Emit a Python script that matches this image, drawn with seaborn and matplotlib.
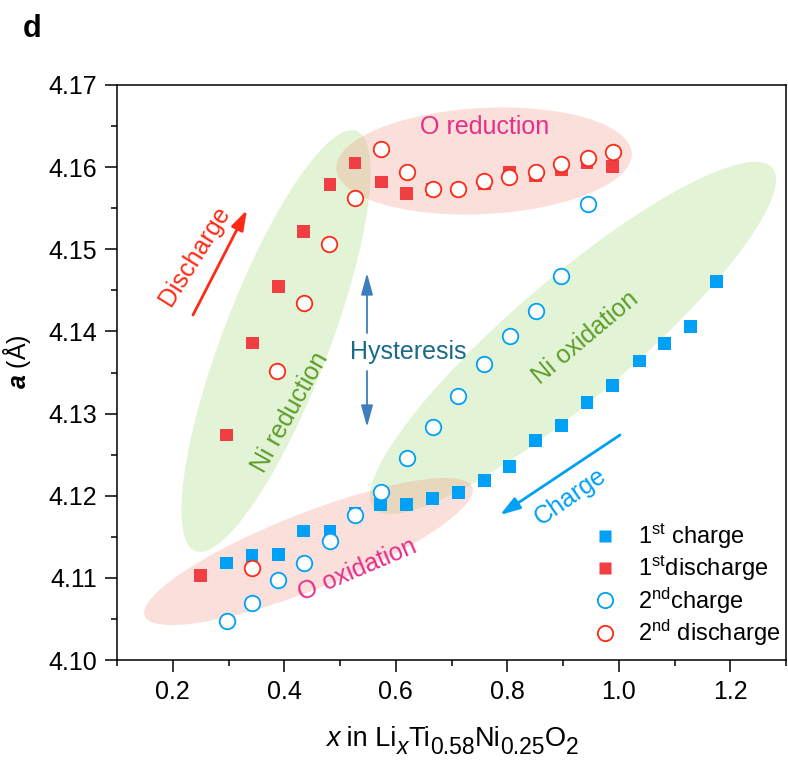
import numpy as np
import pandas as pd
import matplotlib
matplotlib.use("Agg")
import matplotlib.pyplot as plt
import matplotlib.transforms as mtransforms
import seaborn as sns
from matplotlib.patches import Ellipse
from matplotlib.ticker import MultipleLocator, FormatStrFormatter
from matplotlib.lines import Line2D

# ---------------- data ----------------
x_c1 = [0.297, 0.342, 0.389, 0.435, 0.482, 0.527, 0.573, 0.620, 0.666, 0.712,
        0.759, 0.804, 0.851, 0.897, 0.943, 0.989, 1.037, 1.082, 1.128, 1.175]
a_c1 = [4.1118, 4.1127, 4.1128, 4.1157, 4.1157, 4.1179, 4.1189, 4.1189, 4.1197, 4.1204,
        4.1219, 4.1236, 4.1267, 4.1285, 4.1313, 4.1334, 4.1364, 4.1385, 4.1406, 4.1461]

x_d1 = [0.250, 0.297, 0.343, 0.389, 0.435, 0.482, 0.527, 0.574, 0.620, 0.666,
        0.712, 0.759, 0.804, 0.851, 0.897, 0.943, 0.989]
a_d1 = [4.1103, 4.1274, 4.1386, 4.1455, 4.1522, 4.1579, 4.1605, 4.1582, 4.1568, 4.1573,
        4.1573, 4.1580, 4.1593, 4.1590, 4.1597, 4.1605, 4.1601]

x_c2 = [0.297, 0.342, 0.389, 0.435, 0.482, 0.527, 0.573, 0.620, 0.666, 0.712,
        0.759, 0.805, 0.851, 0.897, 0.944]
a_c2 = [4.1048, 4.1069, 4.1097, 4.1118, 4.1145, 4.1177, 4.1204, 4.1246, 4.1284, 4.1321,
        4.1360, 4.1394, 4.1425, 4.1467, 4.1555]

x_d2 = [0.342, 0.387, 0.435, 0.481, 0.527, 0.574, 0.620, 0.666, 0.712, 0.759,
        0.804, 0.851, 0.897, 0.944, 0.990]
a_d2 = [4.1112, 4.1352, 4.1435, 4.1506, 4.1562, 4.1622, 4.1594, 4.1574, 4.1574, 4.1583,
        4.1588, 4.1594, 4.1604, 4.1611, 4.1619]

labels = [r"1$^{\mathrm{st}}$ charge", r"1$^{\mathrm{st}}$discharge",
          r"2$^{\mathrm{nd}}$charge", r"2$^{\mathrm{nd}}$ discharge"]
x_ticks = [0.2, 0.4, 0.6, 0.8, 1.0, 1.2]
y_ticks = [4.10, 4.11, 4.12, 4.13, 4.14, 4.15, 4.16, 4.17]

# x-axis label pieces: (text, is_subscript, is_italic)
xlabel_parts = [("x", False, True), (" in Li", False, False), ("x", True, True),
                ("Ti", False, False), ("0.58", True, False), ("Ni", False, False),
                ("0.25", True, False), ("O", False, False), ("2", True, False)]

# ---------------- style ----------------
sns.set_theme(style="white")
plt.rcParams['font.family'] = ['Liberation Sans', 'DejaVu Sans']
plt.rcParams['mathtext.fontset'] = 'custom'
plt.rcParams['mathtext.rm'] = 'Liberation Sans'
plt.rcParams['mathtext.it'] = 'Liberation Sans:italic'
plt.rcParams['mathtext.bf'] = 'Liberation Sans:bold'
plt.rcParams['mathtext.bfit'] = 'Liberation Sans:bold:italic'
for k in ['text.color', 'axes.labelcolor', 'xtick.color', 'ytick.color', 'axes.edgecolor']:
    plt.rcParams[k] = 'black'

BLUE = "#00A0F6"
RED_SQ = "#F03E42"
RED_C = "#FF2A16"
GREEN_T = "#5E9E2C"
PINK_T = "#E62E8A"

W, H = 788, 764
fig = plt.figure(figsize=(W / 100, H / 100), dpi=100)
L, R, T, B = 117, 786, 85, 660
ax = fig.add_axes([L / W, 1 - B / H, (R - L) / W, (B - T) / H])
ax.set_xlim(0.1, 1.3)
ax.set_ylim(4.10, 4.17)

# pixel (reference image) -> data helper for annotation positions
def p2d(px, py):
    return (0.1 + (px - L) / (R - L) * 1.2, 4.10 + (B - py) / (B - T) * 0.07)

# ---------------- shaded ellipses (in pixel space) ----------------
def pix_ellipse(cx, cy, a, b, ang, fc, alpha):
    e = Ellipse((cx, H - cy), 2 * a, 2 * b, angle=ang,
                facecolor=fc, edgecolor='none', alpha=alpha, zorder=0.5)
    e.set_transform(mtransforms.IdentityTransform())
    ax.add_artist(e)

GREEN_F = (150 / 255, 215 / 255, 100 / 255)
PINK_F = (245 / 255, 150 / 255, 135 / 255)
pix_ellipse(276, 341, 225, 53, 69, GREEN_F, 0.27)
pix_ellipse(573, 338, 262, 60, 40.5, GREEN_F, 0.27)
pix_ellipse(484, 161, 148, 53, 3, PINK_F, 0.30)
pix_ellipse(308.5, 551.5, 176, 38, 21.5, PINK_F, 0.30)

# ---------------- data series ----------------
df_c1 = pd.DataFrame({"x": x_c1, "a": a_c1})
df_d1 = pd.DataFrame({"x": x_d1, "a": a_d1})
df_c2 = pd.DataFrame({"x": x_c2, "a": a_c2})
df_d2 = pd.DataFrame({"x": x_d2, "a": a_d2})

sns.scatterplot(data=df_c1, x="x", y="a", marker="s", s=85, color=BLUE,
                edgecolor='none', linewidth=0, ax=ax, zorder=3)
sns.scatterplot(data=df_d1, x="x", y="a", marker="s", s=85, color=RED_SQ,
                edgecolor='none', linewidth=0, ax=ax, zorder=3)
sns.scatterplot(data=df_c2, x="x", y="a", marker="o", s=125, facecolor="white",
                edgecolor=BLUE, linewidth=1.3, ax=ax, zorder=4)
sns.scatterplot(data=df_d2, x="x", y="a", marker="o", s=125, facecolor="white",
                edgecolor=RED_C, linewidth=1.3, ax=ax, zorder=4)

# ---------------- annotations ----------------
fs = 18
ax.text(*p2d(485, 127), "O reduction", color=PINK_T, fontsize=fs, ha='center', va='center', zorder=5)
ax.text(*p2d(357, 570), "O oxidation", color=PINK_T, fontsize=fs, ha='center', va='center',
        rotation=23, rotation_mode='anchor', zorder=5)
ax.text(*p2d(290, 412), "Ni reduction", color=GREEN_T, fontsize=fs, ha='center', va='center',
        rotation=61, rotation_mode='anchor', zorder=5)
ax.text(*p2d(585, 338), "Ni oxidation", color=GREEN_T, fontsize=fs, ha='center', va='center',
        rotation=40, rotation_mode='anchor', zorder=5)
ax.text(*p2d(195, 256), "Discharge", color=RED_C, fontsize=fs, ha='center', va='center',
        rotation=58, rotation_mode='anchor', zorder=5)
ax.text(*p2d(570, 497), "Charge", color=BLUE, fontsize=fs, ha='center', va='center',
        rotation=35, rotation_mode='anchor', zorder=5)
ax.text(*p2d(350, 352), "Hysteresis", color="#1B6A8A", fontsize=fs, ha='left', va='center', zorder=5)

def arrow(p0, p1, color, lw, hw=0.35, hl=0.9):
    ax.annotate("", xy=p2d(*p1), xytext=p2d(*p0),
                arrowprops=dict(arrowstyle=f"-|>,head_length={hl},head_width={hw}",
                                color=color, lw=lw, shrinkA=0, shrinkB=0), zorder=5)

arrow((193, 315), (247, 210), RED_C, 2.0, 0.32, 1.0)
arrow((620, 435), (500, 515), BLUE, 2.0, 0.32, 1.0)
arrow((367, 333), (367, 273), "#3C7EBE", 1.3, 0.3, 1.1)
arrow((367, 371), (367, 427), "#3C7EBE", 1.3, 0.3, 1.1)

# ---------------- axes ----------------
ax.set_xticks(x_ticks)
ax.set_yticks(y_ticks)
ax.xaxis.set_minor_locator(MultipleLocator(0.1))
ax.yaxis.set_minor_locator(MultipleLocator(0.005))
ax.xaxis.set_major_formatter(FormatStrFormatter('%.1f'))
ax.yaxis.set_major_formatter(FormatStrFormatter('%.2f'))
ax.tick_params(which='major', direction='out', length=8.5, width=1.1, labelsize=18,
               color='black', labelcolor='black', pad=6, bottom=True, left=True)
ax.tick_params(which='minor', direction='out', length=4, width=1.1, color='black',
               bottom=True, left=True)
for sp in ax.spines.values():
    sp.set_visible(True)
    sp.set_color('black')
    sp.set_linewidth(1.1)

ax.set_xlabel("")
ax.set_ylabel(r"$\mathbfit{a}$ (Å)", fontsize=18)
ax.yaxis.set_label_coords((33 - L) / (R - L), (B - 362) / (B - T))

# x label built from text pieces so the subscripts keep the reference's size
renderer = fig.canvas.get_renderer()
main_fs, sub_fs = 19.5, 16.5
pieces = []
for txt, sub, ital in xlabel_parts:
    t = fig.text(0, 0, txt, fontsize=sub_fs if sub else main_fs,
                 fontstyle='italic' if ital else 'normal', ha='left', va='baseline',
                 transform=mtransforms.IdentityTransform())
    w = t.get_window_extent(renderer).width
    pieces.append((t, sub, w))
total = sum(p[2] for p in pieces)
cur = 452 - total / 2
base = H - 746.5
for t, sub, w in pieces:
    t.set_position((cur, base - (8 if sub else 0)))
    cur += w

# ---------------- legend ----------------
handles = [
    Line2D([], [], ls='none', marker='s', ms=9.2, mfc=BLUE, mec='none'),
    Line2D([], [], ls='none', marker='s', ms=9.2, mfc=RED_SQ, mec='none'),
    Line2D([], [], ls='none', marker='o', ms=11, mfc='white', mec=BLUE, mew=1.3),
    Line2D([], [], ls='none', marker='o', ms=11, mfc='white', mec=RED_C, mew=1.3),
]
ax.legend(handles, labels, loc='upper left', frameon=False, fontsize=17,
          bbox_to_anchor=((593 - L) / (R - L), (B - 522) / (B - T)),
          borderaxespad=0, borderpad=0, handlelength=1.0, handletextpad=0.9,
          labelspacing=0.1)

fig.text(23 / W, 1 - 37 / H, "d", fontsize=22, fontweight='bold', ha='left', va='baseline')

fig.savefig("out.png", dpi=100)
